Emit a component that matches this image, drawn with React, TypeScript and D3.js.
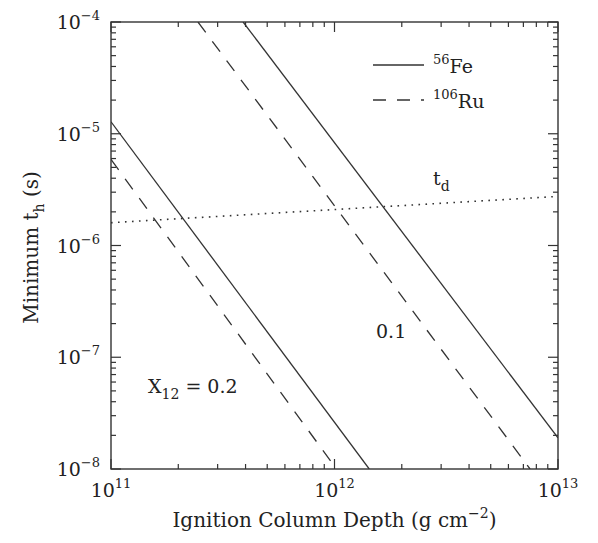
import { scaleLog, line } from "d3";

// chart values (log-log)
const xDomain = [1e11, 1e13];
const yDomain = [1e-8, 1e-4];
const xMajorExp = [11, 12, 13];
const yMajorExp = [-8, -7, -6, -5, -4];

// minimum t_h curves: [column depth, t_h]
const fe02 = [[1e11, 1.28e-5], [1.43e12, 1e-8]];
const ru02 = [[1e11, 5.9e-6], [1.02e12, 1e-8]];
const fe01 = [[3.9e11, 1e-4], [1e13, 1.9e-8]];
const ru01 = [[2.45e11, 1e-4], [7.5e12, 1e-8]];
// t_d curve
const tdLine = [[1e11, 1.6e-6], [1e13, 2.75e-6]];

const legendItems = [
  { mass: "56", el: "Fe", dash: "none" },
  { mass: "106", el: "Ru", dash: "13 11" },
];

const W = 598;
const H = 543;
const margin = { left: 111, right: 40, top: 22, bottom: 74 };
const FONT = "'DejaVu Serif', serif";
const INK = "#333";

export default function App() {
  const x = scaleLog().domain(xDomain).range([margin.left, W - margin.right]);
  const y = scaleLog().domain(yDomain).range([H - margin.bottom, margin.top]);
  const [x0, x1] = x.range();
  const [y0, y1] = y.range();

  const path = line<number[]>()
    .x((d) => x(d[0]))
    .y((d) => y(d[1]));

  const isMajor = (v: number) => Math.abs(Math.log10(v) - Math.round(Math.log10(v))) < 1e-9;
  const xTicks = x.ticks();
  const yTicks = y.ticks();

  return (
    <svg
      width={W}
      height={H}
      style={{ position: "absolute", left: 0, top: 0, background: "#fff" }}
      fontFamily={FONT}
    >
      <defs>
        <clipPath id="plot">
          <rect x={x0} y={y1} width={x1 - x0} height={y0 - y1} />
        </clipPath>
      </defs>

      {/* ticks on all four sides */}
      <g stroke={INK} strokeWidth={1.2}>
        {xTicks.map((t, i) => {
          const len = isMajor(t) ? 10 : 5;
          return (
            <g key={"xt" + i}>
              <line x1={x(t)} x2={x(t)} y1={y0} y2={y0 - len} />
              <line x1={x(t)} x2={x(t)} y1={y1} y2={y1 + len} />
            </g>
          );
        })}
        {yTicks.map((t, i) => {
          const len = isMajor(t) ? 10 : 5;
          return (
            <g key={"yt" + i}>
              <line x1={x0} x2={x0 + len} y1={y(t)} y2={y(t)} />
              <line x1={x1} x2={x1 - len} y1={y(t)} y2={y(t)} />
            </g>
          );
        })}
      </g>

      {/* curves */}
      <g clipPath="url(#plot)" fill="none" stroke={INK} strokeWidth={1.3}>
        <path d={path(fe02) ?? ""} />
        <path d={path(fe01) ?? ""} />
        <path d={path(ru02) ?? ""} strokeDasharray="13 11" />
        <path d={path(ru01) ?? ""} strokeDasharray="13 11" />
        <path d={path(tdLine) ?? ""} strokeDasharray="1.6 5.4" strokeWidth={1.6} />
      </g>

      {/* frame */}
      <rect x={x0} y={y1} width={x1 - x0} height={y0 - y1} fill="none" stroke={INK} strokeWidth={1.4} />

      {/* x tick labels */}
      <g fill="#222" fontSize={19}>
        {xMajorExp.map((e) => (
          <text key={"xl" + e} x={x(Math.pow(10, e))} y={y0 + 28} textAnchor="middle">
            10
            <tspan fontSize={13} dy={-9}>{e}</tspan>
          </text>
        ))}
      </g>

      {/* y tick labels */}
      <g fill="#222" fontSize={19}>
        {yMajorExp.map((e) => (
          <text key={"yl" + e} x={x0 - 11} y={y(Math.pow(10, e)) + 7} textAnchor="end">
            10
            <tspan fontSize={13} dy={-9}>{"\u2212" + Math.abs(e)}</tspan>
          </text>
        ))}
      </g>

      {/* axis titles */}
      <text x={(x0 + x1) / 2} y={527} textAnchor="middle" fontSize={20} fill="#222">
        Ignition Column Depth (g cm
        <tspan fontSize={14} dy={-9}>{"\u22122"}</tspan>
        <tspan dy={9}>)</tspan>
      </text>
      <text
        transform={`translate(38, ${(y0 + y1) / 2 + 2}) rotate(-90)`}
        textAnchor="middle"
        fontSize={20}
        fill="#222"
      >
        Minimum t
        <tspan fontSize={14} dy={6}>h</tspan>
        <tspan dy={-6}> (s)</tspan>
      </text>

      {/* legend */}
      <g fontSize={19} fill="#222">
        {legendItems.map((d, i) => (
          <g key={d.el} transform={`translate(0, ${i * 35})`}>
            <line x1={373} x2={424} y1={65} y2={65} stroke={INK} strokeWidth={1.3} strokeDasharray={d.dash} />
            <text x={433} y={73}>
              <tspan fontSize={13} dy={-9}>{d.mass}</tspan>
              <tspan dy={9}>{d.el}</tspan>
            </text>
          </g>
        ))}
      </g>

      {/* annotations */}
      <g fontSize={19} fill="#222">
        <text x={433} y={185}>
          t<tspan fontSize={14} dy={6}>d</tspan>
        </text>
        <text x={376} y={338}>0.1</text>
        <text x={148} y={393}>
          X<tspan fontSize={14} dy={6}>12</tspan>
          <tspan dy={-6}> = 0.2</tspan>
        </text>
      </g>
    </svg>
  );
}
